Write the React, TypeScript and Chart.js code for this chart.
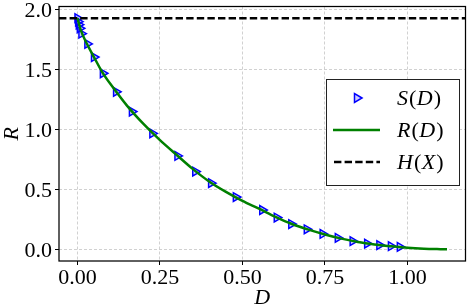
import React, { useEffect, useRef } from "react";
import { Chart, registerables } from "chart.js";
Chart.register(...registerables);

// S(D) samples
const S_D = [0.0, 0.002, 0.004, 0.007, 0.012, 0.030, 0.050, 0.077, 0.117, 0.165, 0.227, 0.303, 0.357, 0.405, 0.48, 0.56, 0.604, 0.648, 0.695, 0.743, 0.789, 0.834, 0.878, 0.915, 0.950, 0.977];
const S_R = [1.93, 1.90, 1.875, 1.845, 1.80, 1.715, 1.605, 1.47, 1.315, 1.15, 0.968, 0.78, 0.65, 0.553, 0.437, 0.329, 0.266, 0.212, 0.168, 0.129, 0.096, 0.069, 0.048, 0.036, 0.027, 0.021];

// R(D) curve
const R_D = [0, 0.01, 0.025, 0.05, 0.075, 0.1, 0.15, 0.2, 0.25, 0.3, 0.35, 0.4, 0.45, 0.5, 0.55, 0.6, 0.65, 0.7, 0.75, 0.8, 0.85, 0.9, 0.95, 1.0, 1.05, 1.1, 1.12];
const R_R = [1.93, 1.83, 1.735, 1.605, 1.48, 1.38, 1.20, 1.047, 0.912, 0.79, 0.67, 0.565, 0.48, 0.405, 0.34, 0.272, 0.212, 0.165, 0.125, 0.09, 0.062, 0.042, 0.027, 0.014, 0.006, 0.002, 0.001];

// H(X)
const H_X = 1.93;

const X_MIN = -0.056;
const X_MAX = 1.176;
const Y_MIN = -0.0965;
const Y_MAX = 2.027;
const X_TICKS = [0, 0.25, 0.5, 0.75, 1.0];
const Y_TICKS = [0, 0.5, 1.0, 1.5, 2.0];
const X_TITLE = "D";
const Y_TITLE = "R";

const LEGEND_LABELS = [
  [["S", true], ["(", false], ["D", true], [")", false]],
  [["R", true], ["(", false], ["D", true], [")", false]],
  [["H", true], ["(", false], ["X", true], [")", false]],
] as [string, boolean][][];

const SERIF = '"Liberation Serif"';
const FS = 22;
Chart.defaults.font.family = SERIF;

const framePlugin = {
  id: "frame",
  afterDatasetsDraw(chart: any) {
    const { ctx, chartArea: a } = chart;
    ctx.save();
    ctx.strokeStyle = "#000";
    ctx.lineWidth = 1.25;
    ctx.setLineDash([]);
    ctx.strokeRect(a.left, a.top, a.right - a.left, a.bottom - a.top);
    ctx.restore();
  },
  afterDraw(chart: any) {
    const { ctx, chartArea: a } = chart;
    const xs = chart.scales.x, ys = chart.scales.y;
    ctx.save();
    // tick labels
    ctx.fillStyle = "#000";
    ctx.font = `${FS}px ${SERIF}`;
    ctx.textBaseline = "alphabetic";
    ctx.textAlign = "center";
    X_TICKS.forEach((v) => {
      ctx.fillText(v.toFixed(2), xs.getPixelForValue(v), a.bottom + 22.5);
    });
    ctx.textAlign = "right";
    Y_TICKS.forEach((v) => {
      ctx.fillText(v.toFixed(1), a.left - 7, ys.getPixelForValue(v) + 7.7);
    });
    // axis titles
    ctx.font = `italic ${FS}px ${SERIF}`;
    ctx.textAlign = "center";
    ctx.fillText(X_TITLE, (a.left + a.right) / 2, 304);
    ctx.save();
    ctx.translate(12, (a.top + a.bottom) / 2);
    ctx.rotate(-Math.PI / 2);
    ctx.textBaseline = "middle";
    ctx.fillText(Y_TITLE, 0, 0);
    ctx.restore();

    // legend
    const bx = 326, by = 79, bw = 133, bh = 106;
    ctx.fillStyle = "#fff";
    ctx.fillRect(bx, by, bw, bh);
    ctx.strokeStyle = "#222";
    ctx.lineWidth = 1;
    ctx.strokeRect(bx + 0.5, by + 0.5, bw, bh);
    const rows = [98, 130, 162];
    ctx.strokeStyle = "#0000ff";
    ctx.fillStyle = "rgba(0,0,255,0.2)";
    ctx.lineWidth = 1.5;
    const mx = 357, my = rows[0], r = 5;
    ctx.beginPath();
    ctx.moveTo(mx + r, my);
    ctx.lineTo(mx - r * 0.5, my - r * 0.87);
    ctx.lineTo(mx - r * 0.5, my + r * 0.87);
    ctx.closePath();
    ctx.fill();
    ctx.stroke();
    ctx.strokeStyle = "#008000";
    ctx.lineWidth = 2.5;
    ctx.beginPath();
    ctx.moveTo(333, rows[1]);
    ctx.lineTo(380, rows[1]);
    ctx.stroke();
    ctx.strokeStyle = "#000";
    ctx.setLineDash([7.4, 3.2]);
    ctx.beginPath();
    ctx.moveTo(334, rows[2]);
    ctx.lineTo(380, rows[2]);
    ctx.stroke();
    ctx.setLineDash([]);
    ctx.fillStyle = "#000";
    ctx.textBaseline = "middle";
    ctx.textAlign = "left";
    LEGEND_LABELS.forEach((segs, i) => {
      let x = 397;
      segs.forEach(([t, it]) => {
        ctx.font = `${it ? "italic " : ""}${FS}px ${SERIF}`;
        ctx.fillText(t, x, rows[i] + 1);
        x += ctx.measureText(t).width + (it ? 1 : 0.5);
      });
    });
    ctx.restore();
  },
};

const gridOpts: any = {
  color: "#cccccc",
  tickLength: 4,
  tickColor: "#000",
  tickBorderDash: [],
  lineWidth: 0.9,
  tickWidth: 1,
};

export default function App() {
  const ref = useRef<HTMLCanvasElement>(null);
  useEffect(() => {
    document.body.style.margin = "0";
    const chart = new Chart(ref.current!, {
      type: "scatter",
      data: {
        datasets: [
          {
            label: "H(X)",
            data: [{ x: X_MIN, y: H_X }, { x: X_MAX, y: H_X }],
            showLine: true,
            borderColor: "#000",
            borderWidth: 2.5,
            borderDash: [7.4, 3.2],
            pointRadius: 0,
            order: 0,
          },
          {
            label: "R(D)",
            data: R_D.map((d, i) => ({ x: d, y: R_R[i] })),
            showLine: true,
            borderColor: "#008000",
            borderWidth: 2.5,
            pointRadius: 0,
            tension: 0.3,
            order: 1,
          },
          {
            label: "S(D)",
            data: S_D.map((d, i) => ({ x: d, y: S_R[i] })),
            showLine: false,
            pointStyle: "triangle",
            rotation: 90,
            pointRadius: 5,
            borderColor: "#0000ff",
            backgroundColor: "rgba(0,0,255,0.2)",
            borderWidth: 1.5,
            order: 2,
          } as any,
        ],
      },
      options: {
        responsive: false,
        animation: false,
        devicePixelRatio: 1,
        layout: { padding: { top: 4, right: 2, left: 0, bottom: 0 } },
        plugins: { legend: { display: false }, tooltip: { enabled: false } },
        scales: {
          x: {
            type: "linear",
            min: X_MIN,
            max: X_MAX,
            afterBuildTicks: (s: any) => { s.ticks = X_TICKS.map((v) => ({ value: v })); },
            afterFit: (s: any) => { s.height = 45; s.paddingLeft = 0; s.paddingRight = 0; },
            border: { display: false, dash: [3, 2] },
            grid: gridOpts,
            ticks: { display: false },
            title: { display: false },
          },
          y: {
            type: "linear",
            min: Y_MIN,
            max: Y_MAX,
            afterBuildTicks: (s: any) => { s.ticks = Y_TICKS.map((v) => ({ value: v })); },
            afterFit: (s: any) => { s.width = 59; s.paddingTop = 0; s.paddingBottom = 0; },
            border: { display: false, dash: [3, 2] },
            grid: gridOpts,
            ticks: { display: false },
            title: { display: false },
          },
        },
      },
      plugins: [framePlugin],
    });
    return () => chart.destroy();
  }, []);
  return (
    <div style={{ position: "fixed", left: 0, top: 0, width: 472, height: 306 }}>
      <canvas ref={ref} width={472} height={306} />
    </div>
  );
}
